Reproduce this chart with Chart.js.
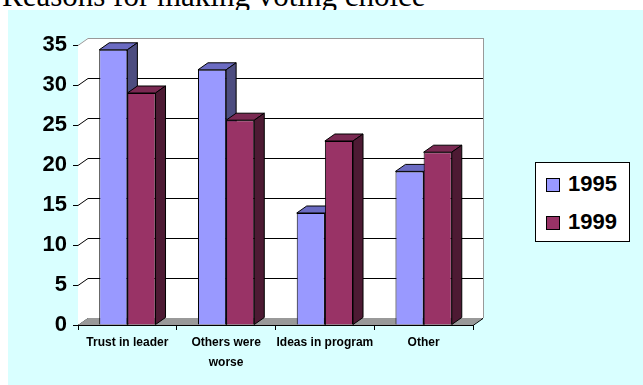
<!DOCTYPE html>
<html>
<head>
<meta charset="utf-8">
<script src="https://cdn.jsdelivr.net/npm/chart.js@4/dist/chart.umd.min.js"></script>
<style>
body{margin:0;width:643px;height:385px;overflow:hidden;background:#fff;position:relative;}
#title{position:absolute;left:2px;top:-20px;font-family:"Liberation Serif","Times New Roman",serif;font-size:31px;line-height:31px;color:#000;white-space:nowrap;}
#panel{position:absolute;left:8px;top:10px;width:635px;height:375px;background:#D9FFFF;}
#legend{position:absolute;left:527px;top:152px;width:93px;height:78px;background:#fff;border:1px solid #000;font-family:"Liberation Sans",Arial,sans-serif;font-weight:bold;font-size:22px;}
.item{position:absolute;left:10px;height:24px;line-height:24px;}
.item span{display:inline-block;width:12px;height:12px;border:1px solid #000;margin-right:8px;vertical-align:-1px;}
</style>
</head>
<body>
<div id="title">Reasons for making voting choice</div>
<div id="panel">
<canvas id="chart" width="635" height="375"></canvas>
<div id="legend"></div>
</div>
<script>

// ================= DATA =================

const categories=["Trust in leader",["Others were","worse"],"Ideas in program","Other"];
const seriesNames=["1995","1999"];
const values1995=[34.4,31.9,14,19.2];
const values1999=[29,25.6,23,21.6];
const yMax=35;
const yStep=5;

// ================= STYLE =================

const front=["#9999FF","#993366"];
const topFace=["#6B6BC2","#7A2952"];
const sideFace=["#4D4D80","#4D1A33"];
const DX=10, DY=-7;

// ================= 3D HELPERS =================

function drawFaces(ctx,meta,i){

meta.data.forEach(bar=>{

const p=bar.getProps(["x","y","base","width"],true);
const x0=p.x-p.width/2, x1=p.x+p.width/2;

ctx.lineWidth=1;
ctx.strokeStyle="#000";

ctx.fillStyle=topFace[i];
ctx.beginPath();
ctx.moveTo(x0,p.y);
ctx.lineTo(x0+DX,p.y+DY);
ctx.lineTo(x1+DX,p.y+DY);
ctx.lineTo(x1,p.y);
ctx.closePath();
ctx.fill();
ctx.stroke();

ctx.fillStyle=sideFace[i];
ctx.beginPath();
ctx.moveTo(x1,p.y);
ctx.lineTo(x1+DX,p.y+DY);
ctx.lineTo(x1+DX,p.base+DY);
ctx.lineTo(x1,p.base);
ctx.closePath();
ctx.fill();
ctx.stroke();

});

}

const walls={

id:"walls",

beforeDatasetsDraw(chart){

const ctx=chart.ctx;
const a=chart.chartArea;
const y=chart.scales.y;

ctx.save();

// back wall
ctx.fillStyle="#fff";
ctx.fillRect(a.left+DX,a.top+DY,a.right-a.left,a.bottom-a.top);

// side wall
ctx.beginPath();
ctx.moveTo(a.left,a.bottom);
ctx.lineTo(a.left,a.top);
ctx.lineTo(a.left+DX,a.top+DY);
ctx.lineTo(a.left+DX,a.bottom+DY);
ctx.closePath();
ctx.fill();

// grid on back wall
y.ticks.forEach(t=>{
const py=Math.round(y.getPixelForValue(t.value))+0.5;
ctx.strokeStyle=t.value===yMax?"#999":"#000";
ctx.lineWidth=1;
ctx.beginPath();
ctx.moveTo(a.left,py);
ctx.lineTo(a.left+DX,py+DY);
ctx.lineTo(a.right+DX,py+DY);
ctx.stroke();
});

// right edge of back wall
ctx.strokeStyle="#999";
ctx.beginPath();
ctx.moveTo(a.right+DX+0.5,a.top+DY);
ctx.lineTo(a.right+DX+0.5,a.bottom+DY);
ctx.stroke();

// floor
ctx.fillStyle="#999";
ctx.beginPath();
ctx.moveTo(a.left,a.bottom);
ctx.lineTo(a.right,a.bottom);
ctx.lineTo(a.right+DX,a.bottom+DY);
ctx.lineTo(a.left+DX,a.bottom+DY);
ctx.closePath();
ctx.fill();

ctx.strokeStyle="#000";
ctx.beginPath();
ctx.moveTo(a.right,a.bottom+0.5);
ctx.lineTo(a.right+DX,a.bottom+DY+0.5);
ctx.stroke();

// faces of the first series go under the second series
drawFaces(ctx,chart.getDatasetMeta(0),0);

ctx.restore();

},

afterDatasetsDraw(chart){

const ctx=chart.ctx;
ctx.save();
drawFaces(ctx,chart.getDatasetMeta(1),1);
ctx.restore();

}

};

// ================= CHART =================

const chart=new Chart(document.getElementById("chart"),{

type:"bar",

data:{
labels:categories,
datasets:[
{label:seriesNames[0],data:values1995,backgroundColor:front[0],borderColor:"#000",borderWidth:1},
{label:seriesNames[1],data:values1999,backgroundColor:front[1],borderColor:"#000",borderWidth:1}
]
},

options:{

responsive:false,
animation:false,
events:[],

layout:{padding:{left:0,top:35,right:170,bottom:0}},

datasets:{bar:{categoryPercentage:0.57,barPercentage:1}},

plugins:{legend:{display:false},tooltip:{enabled:false}},

scales:{

x:{
grid:{drawOnChartArea:false,drawTicks:true,tickLength:5,color:"#000",offset:true},
border:{display:true,color:"#000",width:1},
ticks:{color:"#000",padding:3,maxRotation:0,autoSkip:false,font:{family:"Liberation Sans",weight:"bold",size:12,lineHeight:1.67}},
afterFit(s){s.height=60;}
},

y:{
min:0,
max:yMax,
ticks:{stepSize:yStep,color:"#000",padding:6,font:{family:"Liberation Sans",weight:"bold",size:22}},
grid:{drawOnChartArea:false,drawTicks:true,tickLength:5,color:"#000"},
border:{display:true,color:"#000",width:1},
afterFit(s){s.width=70;}
}

}

},

plugins:[walls]

});

// ================= LEGEND =================

const legend=document.getElementById("legend");
seriesNames.forEach((n,i)=>{
legend.innerHTML+=`<div class="item" style="top:${9+i*38}px"><span style="background:${front[i]}"></span>${n}</div>`;
});

</script>
</body>
</html>
